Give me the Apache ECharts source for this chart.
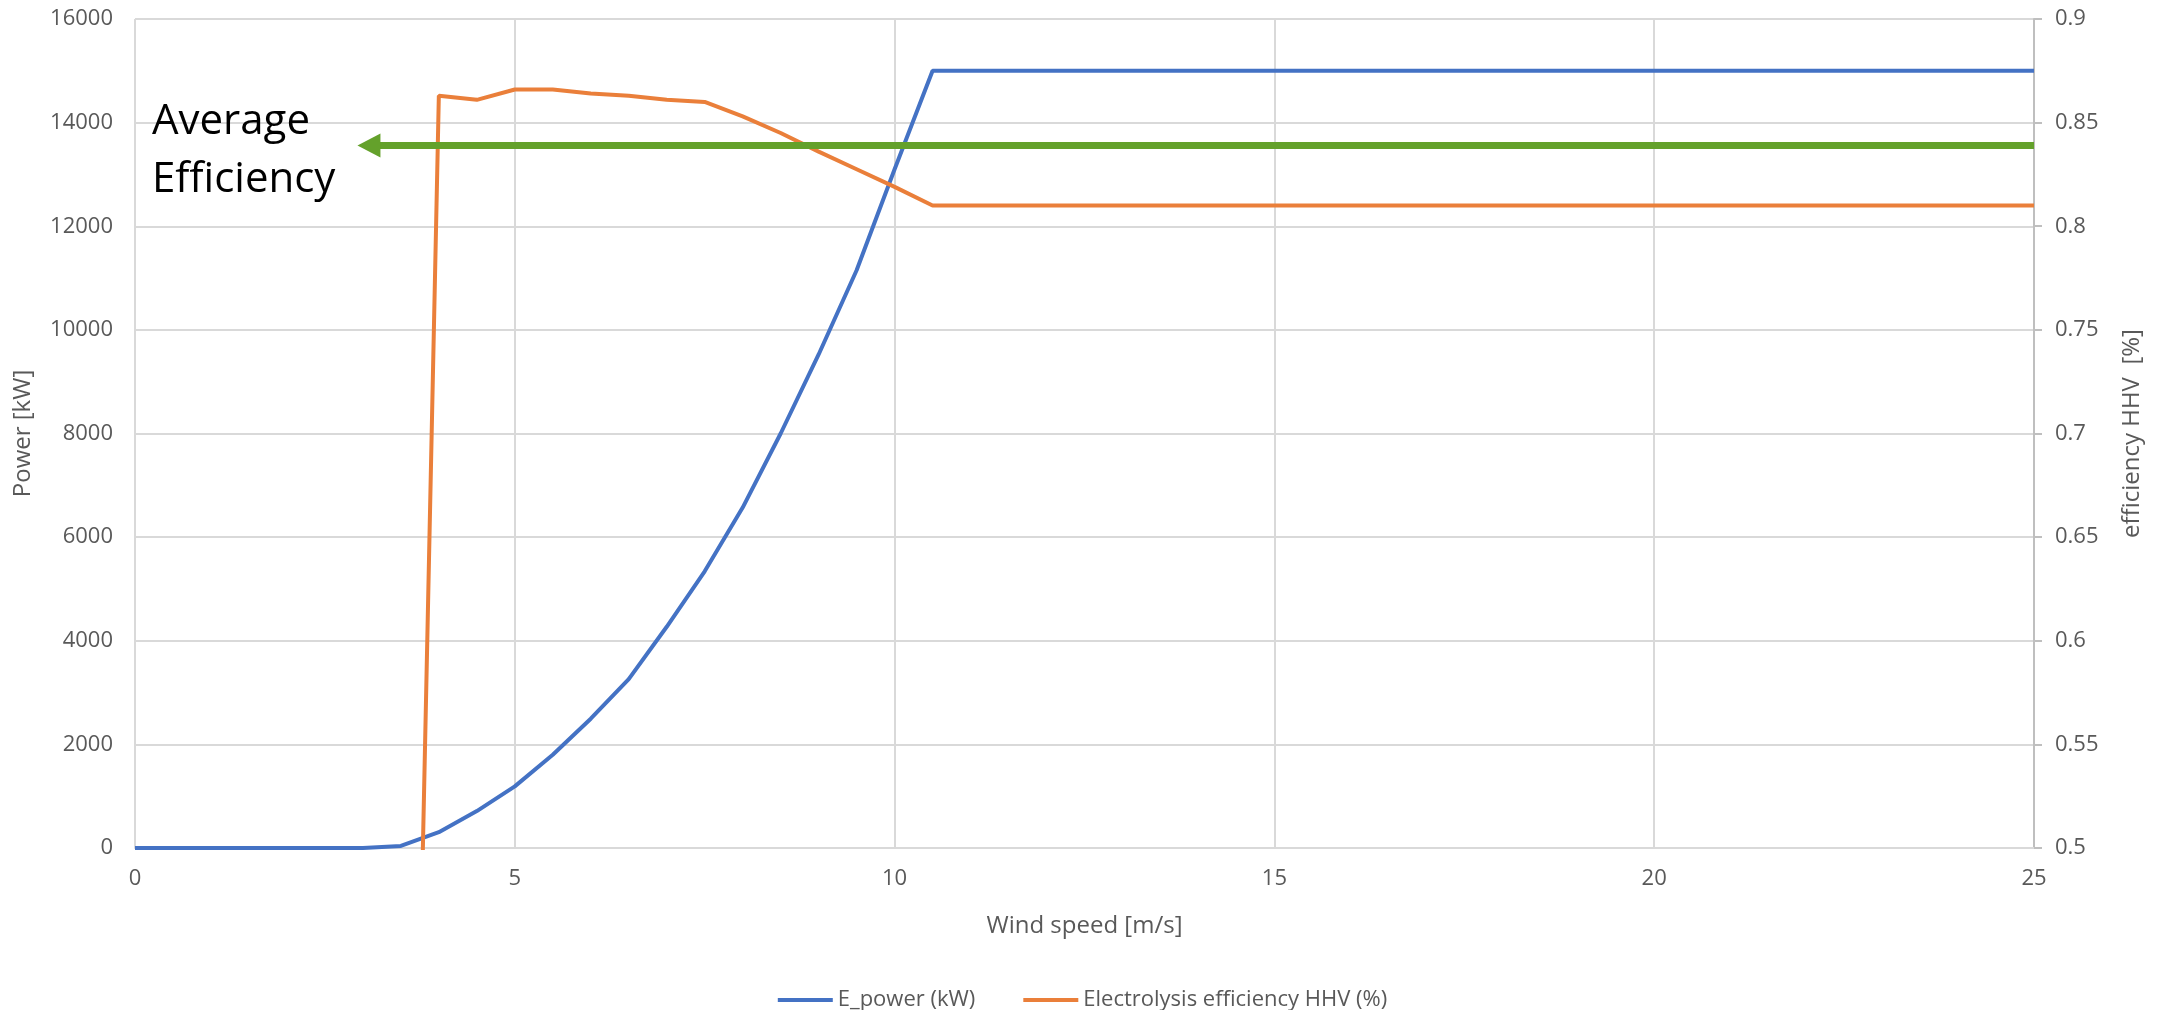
<!DOCTYPE html>
<html>
<head>
<meta charset="utf-8">
<title>Wind power and electrolysis efficiency</title>
<script src="https://cdn.jsdelivr.net/npm/echarts@6.0.0/dist/echarts.min.js"></script>
<style>
    html, body { margin: 0; padding: 0; background: #fff; }
    #chart { width: 2165px; height: 1010px; }
</style>
</head>
<body>
<div id="chart"></div>
<script>
// wind speed [m/s], one point every 0.5 m/s
var windSpeed = [
    0, 0.5, 1, 1.5, 2, 2.5, 3, 3.5, 4, 4.5,
    5, 5.5, 6, 6.5, 7, 7.5, 8, 8.5, 9, 9.5,
    10, 10.5, 11, 11.5, 12, 12.5, 13, 13.5, 14, 14.5,
    15, 15.5, 16, 16.5, 17, 17.5, 18, 18.5, 19, 19.5,
    20, 20.5, 21, 21.5, 22, 22.5, 23, 23.5, 24, 24.5, 25
];

// E_power (kW)
var powerKw = [
    0, 0, 0, 0, 0, 0, 0, 40, 306, 712,
    1190, 1800, 2495, 3260, 4270, 5340, 6570, 8000, 9525, 11150,
    13100, 15000, 15000, 15000, 15000, 15000, 15000, 15000, 15000, 15000,
    15000, 15000, 15000, 15000, 15000, 15000, 15000, 15000, 15000, 15000,
    15000, 15000, 15000, 15000, 15000, 15000, 15000, 15000, 15000, 15000, 15000
];

// Electrolysis efficiency HHV (fraction), 0 below cut-in (clipped by the axis)
var efficiencyHhv = [
    0, 0, 0, 0, 0, 0, 0, 0, 0.863, 0.861,
    0.866, 0.866, 0.864, 0.863, 0.861, 0.860, 0.853, 0.845, 0.836, 0.8275,
    0.819, 0.810, 0.810, 0.810, 0.810, 0.810, 0.810, 0.810, 0.810, 0.810,
    0.810, 0.810, 0.810, 0.810, 0.810, 0.810, 0.810, 0.810, 0.810, 0.810,
    0.810, 0.810, 0.810, 0.810, 0.810, 0.810, 0.810, 0.810, 0.810, 0.810, 0.810
];

// average efficiency arrow: from the right edge towards the label
var avgEfficiency = 0.839;
var avgArrowX = [25, 3.08];

var seriesNames = ['E_power (kW)', 'Electrolysis efficiency HHV (%)'];
var avgLabel = 'Average\nEfficiency';

var grey = '#595959';
var gridGrey = '#D9D9D9';
var font = "'Open Sans', 'Noto Sans', sans-serif";

var chart = echarts.init(document.getElementById('chart'));

var option = {
    animation: false,
    textStyle: { fontFamily: font },
    grid: {
        left: 135,
        right: 131,
        top: 19,
        bottom: 162,
        containLabel: false,
        outerBoundsMode: 'none'
    },
    legend: {
        data: seriesNames,
        top: 984,
        left: 'center',
        icon: 'rect',
        itemWidth: 55,
        itemHeight: 4,
        itemGap: 48,
        textStyle: { color: grey, fontSize: 22, fontFamily: font }
    },
    xAxis: {
        type: 'value',
        min: 0,
        max: 25,
        interval: 5,
        name: 'Wind speed [m/s]',
        nameLocation: 'middle',
        nameGap: 66,
        nameTextStyle: { color: grey, fontSize: 24, fontFamily: font },
        axisLine: { show: true, lineStyle: { color: gridGrey, width: 2 } },
        axisTick: { show: false },
        axisLabel: { color: grey, fontSize: 22, margin: 20 },
        splitLine: { show: true, lineStyle: { color: gridGrey, width: 2 } }
    },
    yAxis: [
        {
            type: 'value',
            min: 0,
            max: 16000,
            interval: 2000,
            name: 'Power [kW]',
            nameLocation: 'middle',
            nameGap: 100,
            nameTextStyle: { color: grey, fontSize: 24, fontFamily: font },
            axisLine: { show: false },
            axisTick: { show: false },
            axisLabel: {
                color: grey,
                fontSize: 22,
                margin: 22,
                formatter: function (v) { return String(v); }
            },
            splitLine: { show: true, lineStyle: { color: gridGrey, width: 2 } }
        },
        {
            type: 'value',
            min: 0.5,
            max: 0.9,
            interval: 0.05,
            name: 'efficiency HHV  [%]',
            nameLocation: 'middle',
            nameGap: 86,
            nameRotate: 90,
            nameTextStyle: { color: grey, fontSize: 24, fontFamily: font },
            axisLine: { show: true, lineStyle: { color: '#BFBFBF', width: 2 } },
            axisTick: { show: true, length: 8, lineStyle: { color: '#BFBFBF', width: 2 } },
            axisLabel: {
                color: grey,
                fontSize: 22,
                margin: 21,
                formatter: function (v) { return String(parseFloat(v.toFixed(2))); }
            },
            splitLine: { show: false }
        }
    ],
    series: [
        {
            name: seriesNames[0],
            type: 'line',
            yAxisIndex: 0,
            symbol: 'none',
            clip: true,
            color: '#4472C4',
            lineStyle: { color: '#4472C4', width: 4 },
            data: windSpeed.map(function (x, i) { return [x, powerKw[i]]; })
        },
        {
            name: seriesNames[1],
            type: 'line',
            yAxisIndex: 1,
            symbol: 'none',
            clip: true,
            color: '#EA7F3A',
            lineStyle: { color: '#EA7F3A', width: 4 },
            data: windSpeed.map(function (x, i) { return [x, efficiencyHhv[i]]; })
        },
        {
            // green arrow for the average efficiency
            name: 'Average efficiency',
            type: 'line',
            yAxisIndex: 1,
            data: [],
            markLine: {
                silent: true,
                symbol: ['none', 'triangle'],
                symbolSize: [24, 23],
                label: { show: false },
                lineStyle: { color: '#64A12B', width: 7, type: 'solid' },
                emphasis: { disabled: true },
                data: [[
                    { coord: [avgArrowX[0], avgEfficiency] },
                    { coord: [avgArrowX[1], avgEfficiency] }
                ]]
            }
        }
    ],
    graphic: [
        {
            type: 'text',
            left: 152,
            top: 93,
            z: 100,
            style: {
                text: avgLabel,
                fill: '#000',
                font: "42px 'Open Sans', 'Noto Sans', sans-serif",
                lineHeight: 58
            }
        }
    ]
};

chart.setOption(option);
</script>
</body>
</html>
